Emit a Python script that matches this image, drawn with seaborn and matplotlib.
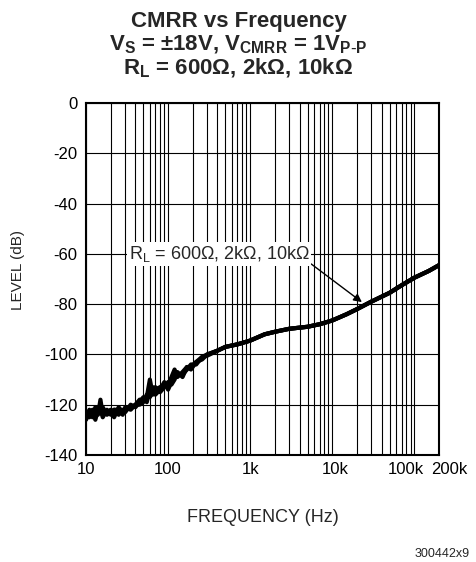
import pandas as pd
import seaborn as sns
import matplotlib.pyplot as plt
import matplotlib.transforms as mtransforms
from matplotlib.ticker import LogLocator, NullFormatter, FixedLocator

sns.set_style("white")
plt.rcParams["font.family"] = ["Liberation Sans", "DejaVu Sans"]
plt.rcParams["mathtext.default"] = "regular"
plt.rcParams["axes.unicode_minus"] = False

# frequency points (Hz)
freq = [10, 11, 12, 13, 14, 15, 16, 18, 20, 22, 25, 28, 30, 35, 40, 45, 50, 55,
        60, 65, 70, 80, 90, 100, 110, 120, 130, 150, 170, 190, 220, 260, 300,
        400, 500, 700, 1000, 1500, 2000, 3000, 5000, 7000, 10000, 15000, 20000,
        30000, 50000, 70000, 100000, 150000, 200000]

# CMRR level (dB) for each load
level_600 = [-126, -123, -125, -121, -124, -118, -124, -123, -122, -125, -121, -123,
             -122, -121, -120, -118, -118, -117, -110, -116, -114, -113, -112, -112,
             -109, -106, -109, -107, -105, -105, -103, -101, -100, -98.5, -97,
             -96, -94.5, -92, -91, -89.8, -89, -88, -86.5, -84, -82, -79, -75.5,
             -72.5, -69.5, -66.8, -64.5]
level_2k = [-123, -125, -122, -126, -122, -123, -121, -124, -123, -122, -124, -122,
            -123, -120, -121, -119, -117, -119, -114, -113, -116, -114, -111, -114,
            -111, -108, -108, -108, -106, -104, -104, -101, -100.5, -98.5, -97,
            -96, -94.5, -92, -91, -89.8, -89, -88, -86.5, -84, -82, -79, -75.5,
            -72.5, -69.5, -66.8, -64.5]
level_10k = [-125, -122, -124, -123, -121, -122, -125, -122, -124, -122, -122, -124,
             -121, -122, -120, -120, -119, -116, -117, -115, -113, -115, -113, -111,
             -112, -110, -107, -109, -105, -106, -103, -102, -100, -98.5, -97,
             -96, -94.5, -92, -91, -89.8, -89, -88, -86.5, -84, -82, -79, -75.5,
             -72.5, -69.5, -66.8, -64.5]

loads = ["600", "2k", "10k"]
xtick_vals = [10, 100, 1000, 10000, 100000, 200000]
xtick_labels = ["10", "100", "1k", "10k", "100k", "200k"]

df = pd.concat([
    pd.DataFrame({"freq": freq, "level": lv, "load": name})
    for name, lv in zip(loads, [level_600, level_2k, level_10k])
])

fig = plt.figure(figsize=(4.77, 5.62), dpi=100)
ax = fig.add_axes([86 / 477, 1 - 455 / 562, 353 / 477, 352 / 562])

sns.lineplot(data=df, x="freq", y="level", hue="load", palette=["black"] * 3,
             linewidth=3, legend=False, ax=ax, sort=False, estimator=None)

ax.set_xscale("log")
ax.set_xlim(10, 200000)
ax.set_ylim(-140, 0)
ax.xaxis.set_major_locator(FixedLocator(xtick_vals))
ax.set_xticklabels(xtick_labels)
ax.xaxis.set_minor_locator(LogLocator(base=10, subs=[2, 3, 4, 5, 6, 7, 8, 9], numticks=20))
ax.xaxis.set_minor_formatter(NullFormatter())
ax.set_yticks(range(-140, 1, 20))
ax.tick_params(which="both", length=0, labelsize=12, colors="black")
ax.tick_params(axis="x", pad=5)
ax.tick_params(axis="y", pad=6)
ax.grid(which="both", color="black", linewidth=0.8)
for s in ax.spines.values():
    s.set_color("black")
    s.set_linewidth(1.5)

# nudge crowded x tick labels like the original
shifts = {"10k": 3, "100k": -8, "200k": 10}
for lab in ax.get_xticklabels():
    dx = shifts.get(lab.get_text(), 0)
    if dx:
        lab.set_transform(lab.get_transform() +
                          mtransforms.ScaledTranslation(dx / 100, 0, fig.dpi_scale_trans))

ax.set_xlabel("FREQUENCY (Hz)", fontsize=13, va="center")
ax.xaxis.set_label_coords(0.5, (455 - 517) / 352)
ax.set_ylabel("LEVEL (dB)", fontsize=11, va="center")
ax.yaxis.set_label_coords((18 - 86) / 353, (455 - 270) / 352)

ax.annotate("R$_L$ = 600Ω, 2kΩ, 10kΩ", xy=(23000, -79.2), xytext=(33, -60),
            fontsize=13, ha="left", va="center",
            bbox=dict(boxstyle="square,pad=0.1", fc="white", ec="none"),
            arrowprops=dict(arrowstyle="-|>", color="black", lw=1, mutation_scale=12,
                            relpos=(0.98, 0.2), shrinkA=0, shrinkB=0))

title_lines = ["CMRR vs Frequency",
               "V$_S$ = ±18V, V$_{CMRR}$ = 1V$_{P\\text{-}P}$",
               "R$_L$ = 600Ω, 2kΩ, 10kΩ"]
for line, ybase in zip(title_lines, [27, 50, 74]):
    fig.text(0.5, 1 - ybase / 562, line, ha="center", va="baseline",
             fontsize=16, fontweight="bold")
fig.text(470 / 477, 1 - 560 / 562, "300442x9", ha="right", va="bottom", fontsize=9)

fig.savefig("out.png", dpi=100)
